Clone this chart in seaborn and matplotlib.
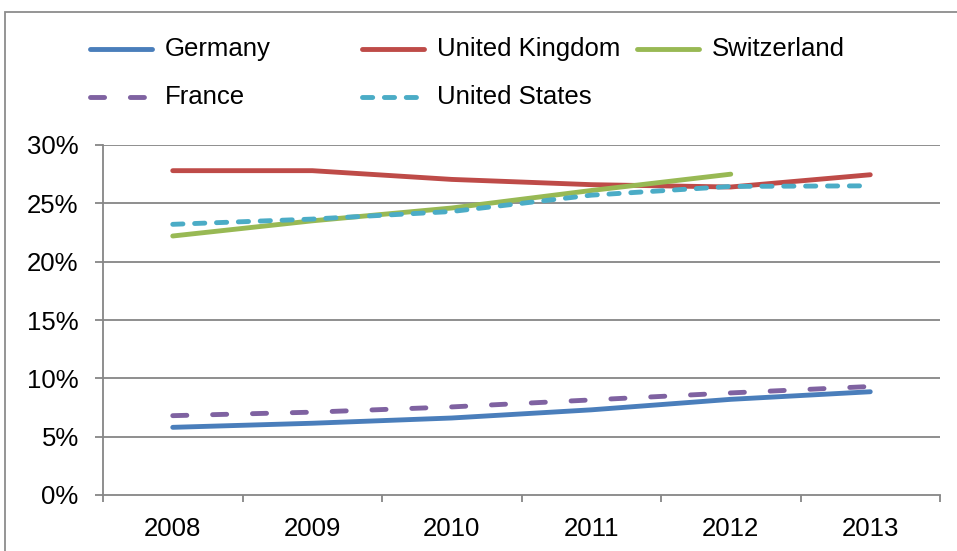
import numpy as np
import pandas as pd
import matplotlib.pyplot as plt
import seaborn as sns
from matplotlib.lines import Line2D
from matplotlib.patches import Rectangle

# values (percent)
years = ['2008', '2009', '2010', '2011', '2012', '2013']
germany = [5.8, 6.15, 6.6, 7.3, 8.2, 8.85]
united_kingdom = [27.8, 27.8, 27.05, 26.6, 26.4, 27.45]
switzerland = [22.2, 23.5, 24.6, 26.1, 27.5, np.nan]
france = [6.8, 7.1, 7.55, 8.15, 8.75, 9.3]
united_states = [23.2, 23.65, 24.3, 25.7, 26.45, 26.5]
y_ticks = [0, 5, 10, 15, 20, 25, 30]

series = {
    'Germany': germany,
    'United Kingdom': united_kingdom,
    'Switzerland': switzerland,
    'France': france,
    'United States': united_states,
}
colors = {
    'Germany': '#4A7EBB',
    'United Kingdom': '#BE4B48',
    'Switzerland': '#98B954',
    'France': '#7F62A1',
    'United States': '#4BACC6',
}
dashes = {
    'Germany': '',
    'United Kingdom': '',
    'Switzerland': '',
    'France': (2.9, 5.3),
    'United States': (2.1, 2.4),
}

rows = []
for name, vals in series.items():
    for i, v in enumerate(vals):
        rows.append({'pos': i, 'value': v, 'country': name})
df = pd.DataFrame(rows)

sns.set_style('white')
plt.rcParams['font.family'] = ['Liberation Sans', 'DejaVu Sans']
plt.rcParams['text.color'] = 'black'
plt.rcParams['xtick.color'] = 'black'
plt.rcParams['ytick.color'] = 'black'

W, H = 957, 551
fig = plt.figure(figsize=(W / 100, H / 100), dpi=100)
ax = fig.add_axes([103 / W, 56 / H, (940 - 103) / W, (495 - 145) / H])

grid_col = '#868686'
for t in y_ticks[1:]:
    ax.axhline(t, color=grid_col, lw=1.3, zorder=0)

sns.lineplot(data=df, x='pos', y='value', hue='country', style='country',
             hue_order=list(series), style_order=list(series),
             palette=colors, dashes=dashes, linewidth=3.5,
             legend=False, ax=ax, zorder=3)
for line in ax.lines:
    line.set_solid_capstyle('round')
    line.set_dash_capstyle('round')

ax.set_xlim(-0.5, len(years) - 0.5)
ax.set_ylim(0, 30)
ax.set_yticks(y_ticks)
ax.set_yticklabels([f'{t}%' for t in y_ticks])
ax.set_xticks(range(len(years)))
ax.set_xticklabels(years)
ax.set_xticks(np.arange(-0.5, len(years), 1.0), minor=True)
ax.tick_params(axis='x', which='major', length=0, pad=16, labelsize=18.5,
               labelcolor='black')
ax.tick_params(axis='x', which='minor', length=5, width=1.3, color=grid_col,
               bottom=True)
ax.tick_params(axis='y', length=5.5, width=1.3, color=grid_col, pad=12,
               labelsize=18.5, left=True, labelcolor='black')
ax.set_xlabel('')
ax.set_ylabel('')
for side in ['top', 'right']:
    ax.spines[side].set_visible(False)
for side in ['left', 'bottom']:
    ax.spines[side].set_color(grid_col)
    ax.spines[side].set_linewidth(1.3)

# legend drawn by hand to follow the reference layout
legend_pos = {
    'Germany': (88, 49),
    'United Kingdom': (360, 49),
    'Switzerland': (635, 49),
    'France': (88, 97),
    'United States': (360, 97),
}
for name, (lx, ly) in legend_pos.items():
    ln = Line2D([(lx + 2) / W, (lx + 64) / W], [1 - ly / H] * 2,
                transform=fig.transFigure, color=colors[name], lw=3.5,
                solid_capstyle='round', dash_capstyle='round')
    if dashes[name]:
        ln.set_dashes(dashes[name])
    fig.add_artist(ln)
    fig.text((lx + 77) / W, 1 - ly / H, name, fontsize=18.5,
             va='center', ha='left', color='black')

# outer chart border
fig.add_artist(Rectangle((5 / W, -0.05), 1.1, 1.05 - 12 / H,
                         transform=fig.transFigure, fill=False,
                         edgecolor='#8C8C8C', lw=1.3))

fig.savefig('out.png', dpi=100)
